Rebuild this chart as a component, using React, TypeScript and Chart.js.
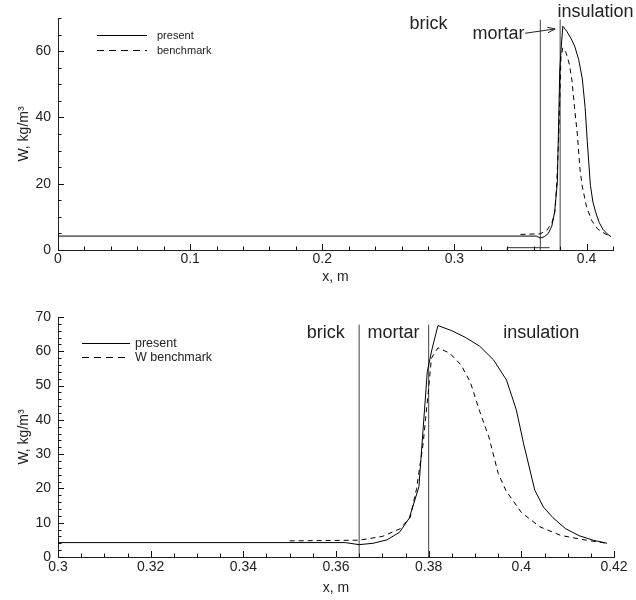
import React, { useEffect, useRef } from "react";
import { Chart, registerables } from "chart.js";

Chart.register(...registerables);

// ---------- data ----------
const presentX = [0, 0.362, 0.365, 0.368, 0.371, 0.3737, 0.3758, 0.3779, 0.3797, 0.3807, 0.382, 0.385, 0.388, 0.391, 0.394, 0.3968, 0.3989, 0.4005, 0.4029, 0.4048, 0.4068, 0.4095, 0.4125, 0.4155, 0.4185];
const presentW = [4.2, 4.2, 3.6, 4.0, 5.0, 7.2, 11.3, 20.5, 54, 60.5, 67.5, 66, 64, 61.5, 57.5, 51.6, 43, 33, 19.5, 14.5, 11.5, 8.3, 6.2, 4.9, 4.0];

const benchX = [0.35, 0.365, 0.37, 0.3738, 0.376, 0.3774, 0.3788, 0.3799, 0.3806, 0.382, 0.3845, 0.387, 0.389, 0.391, 0.393, 0.395, 0.3967, 0.4, 0.404, 0.4085, 0.414, 0.418];
const benchW = [4.7, 4.9, 6.0, 8.2, 11.5, 20, 33, 48, 58, 61, 59.5, 56, 51, 42.5, 35, 24.4, 19.3, 13, 8.8, 6.3, 4.9, 4.1];

const layerBounds = [0.365, 0.38];
const layerNames = ["brick", "mortar", "insulation"];

const markX = [0.34, 0.34, 0.372];
const markW = [0, 0.7, 0.7];

// axis ranges / ticks
const topXRange = [0, 0.42];
const topXSteps = [0.02, 0.1]; // minor, major
const topYRange = [0, 70];
const topYSteps = [5, 20];
const botXRange = [0.3, 0.42];
const botXSteps = [0.005, 0.02];
const botYRange = [0, 70];
const botYSteps = [2, 10];

const FONT = "'Liberation Sans', Arial, Helvetica, sans-serif";
const INK = "#222";
const AXIS = "#222";

const isMajor = (v: number, major: number) => Math.abs(v / major - Math.round(v / major)) < 1e-6;
const fmt = (v: number) => String(parseFloat(v.toFixed(3)));
const pts = (xs: number[], ys: number[]) => xs.map((x, i) => ({ x, y: ys[i] }));

// ---------- plugins ----------
const inwardTicks = {
  id: "inwardTicks",
  afterDraw(chart: any, _args: any, opts: any) {
    const { ctx, chartArea } = chart;
    const xs = chart.scales.x;
    const ys = chart.scales.y;
    const xMajor = opts && opts.xMajor ? opts.xMajor : 1;
    const yMajor = opts && opts.yMajor ? opts.yMajor : 10;
    ctx.save();
    ctx.setLineDash([]);
    ctx.strokeStyle = "#111";
    ctx.lineWidth = 1;
    ctx.beginPath();
    xs.ticks.forEach((t: any) => {
      const px = Math.round(xs.getPixelForValue(t.value)) + 0.5;
      const len = isMajor(t.value, xMajor) ? 6 : 3.5;
      ctx.moveTo(px, chartArea.bottom);
      ctx.lineTo(px, chartArea.bottom - len);
    });
    ys.ticks.forEach((t: any) => {
      const py = Math.round(ys.getPixelForValue(t.value)) + 0.5;
      const len = isMajor(t.value, yMajor) ? 6 : 3.5;
      ctx.moveTo(chartArea.left, py);
      ctx.lineTo(chartArea.left + len, py);
    });
    ctx.stroke();
    ctx.restore();
  },
};

const boxLegend = {
  id: "boxLegend",
  afterDraw(chart: any, _args: any, opts: any) {
    const { ctx, chartArea } = chart;
    ctx.save();
    ctx.font = `${opts.fontSize}px ${FONT}`;
    ctx.textBaseline = "middle";
    ctx.textAlign = "left";
    let row = 0;
    chart.data.datasets.forEach((ds: any) => {
      if (!ds.label) return;
      const y = chartArea.top + opts.dy + row * opts.rowGap + 0.5;
      const x0 = chartArea.left + opts.dx;
      ctx.strokeStyle = "#000";
      ctx.lineWidth = 1;
      ctx.setLineDash(ds.borderDash && ds.borderDash.length ? opts.dash : []);
      ctx.beginPath();
      ctx.moveTo(x0, y);
      ctx.lineTo(x0 + opts.len, y);
      ctx.stroke();
      ctx.setLineDash([]);
      ctx.fillStyle = INK;
      ctx.fillText(ds.label, x0 + opts.len + opts.gap, y);
      row++;
    });
    ctx.restore();
  },
};

const layerText = {
  id: "layerText",
  afterDraw(chart: any, _args: any, opts: any) {
    const { ctx } = chart;
    const xs = chart.scales.x;
    const ys = chart.scales.y;
    ctx.save();
    ctx.font = `${opts.fontSize}px ${FONT}`;
    ctx.fillStyle = INK;
    ctx.textAlign = "center";
    ctx.textBaseline = "middle";
    opts.items.forEach((it: any) => {
      ctx.fillText(it.text, xs.getPixelForValue(it.x), ys.getPixelForValue(it.y));
    });
    (opts.arrows || []).forEach((a: any) => {
      const x1 = xs.getPixelForValue(a.from[0]);
      const y1 = ys.getPixelForValue(a.from[1]);
      const x2 = xs.getPixelForValue(a.to[0]);
      const y2 = ys.getPixelForValue(a.to[1]);
      const ang = Math.atan2(y2 - y1, x2 - x1);
      ctx.strokeStyle = INK;
      ctx.lineWidth = 1;
      ctx.beginPath();
      ctx.moveTo(x1, y1);
      ctx.lineTo(x2, y2);
      ctx.moveTo(x2 - 8 * Math.cos(ang - 0.35), y2 - 8 * Math.sin(ang - 0.35));
      ctx.lineTo(x2, y2);
      ctx.lineTo(x2 - 8 * Math.cos(ang + 0.35), y2 - 8 * Math.sin(ang + 0.35));
      ctx.stroke();
    });
    ctx.restore();
  },
};

// ---------- chart config ----------
function buildConfig(p: any) {
  const lineDs = (label: string, data: any[], dash: number[], color = "#000") => ({
    label,
    data,
    showLine: true,
    borderColor: color,
    borderWidth: 1,
    borderDash: dash,
    pointRadius: 0,
    fill: false,
    tension: 0,
  });
  const datasets: any[] = [
    lineDs("present", pts(presentX, presentW), []),
    lineDs(p.benchLabel, pts(benchX, benchW), [5, 4]),
    ...layerBounds.map((b) => lineDs("", pts([b, b], [0, p.boundTop]), [], "#444")),
  ];
  if (p.showMark) datasets.push(lineDs("", pts(markX, markW), [], "#333"));

  return {
    type: "scatter",
    data: { datasets },
    plugins: [inwardTicks, boxLegend, layerText],
    options: {
      responsive: false,
      animation: false,
      devicePixelRatio: 1,
      layout: { padding: p.padding },
      plugins: {
        legend: { display: false },
        tooltip: { enabled: false },
        inwardTicks: { xMajor: p.xSteps[1], yMajor: p.ySteps[1] },
        boxLegend: p.legend,
        layerText: p.text,
      },
      scales: {
        x: {
          type: "linear",
          min: p.xRange[0],
          max: p.xRange[1],
          grid: { display: false, drawTicks: false, tickLength: 0 },
          border: { display: true, color: AXIS, width: 1 },
          afterFit: (s: any) => { s.height = p.xHeight; },
          ticks: {
            stepSize: p.xSteps[0],
            autoSkip: false,
            maxRotation: 0,
            minRotation: 0,
            padding: p.xTickPad,
            color: INK,
            font: { family: FONT, size: 14 },
            callback: (v: any) => (isMajor(Number(v), p.xSteps[1]) ? fmt(Number(v)) : ""),
          },
          title: {
            display: true,
            text: "x, m",
            color: INK,
            font: { family: FONT, size: 14 },
            padding: { top: 0, bottom: p.xTitlePad },
          },
        },
        y: {
          type: "linear",
          min: p.yRange[0],
          max: p.yRange[1],
          grid: { display: false, drawTicks: false, tickLength: 0 },
          border: { display: true, color: AXIS, width: 1 },
          afterFit: (s: any) => { s.width = 58; },
          ticks: {
            stepSize: p.ySteps[0],
            autoSkip: false,
            padding: 7,
            color: INK,
            font: { family: FONT, size: 14 },
            callback: (v: any) => (isMajor(Number(v), p.ySteps[1]) ? fmt(Number(v)) : ""),
          },
          title: {
            display: true,
            text: "W, kg/m³",
            color: INK,
            font: { family: FONT, size: 14 },
            padding: { top: 15.5, bottom: 0 },
          },
        },
      },
    },
  };
}

const topPanel = {
  top: 0,
  height: 295,
  xRange: topXRange,
  xSteps: topXSteps,
  yRange: topYRange,
  ySteps: topYSteps,
  padding: { left: 0, right: 23, top: 18, bottom: 5 },
  xHeight: 40,
  xTickPad: 1,
  xTitlePad: 4.6,
  benchLabel: "benchmark",
  boundTop: 69.5,
  showMark: true,
  legend: { dx: 39, dy: 17, rowGap: 15, len: 50, gap: 10, fontSize: 11, dash: [7, 5] },
  text: {
    fontSize: 18,
    items: [
      { text: layerNames[0], x: 0.2804, y: 68.3 },
      { text: layerNames[1], x: 0.3333, y: 65.3 },
      { text: layerNames[2], x: 0.4067, y: 71.8 },
    ],
    arrows: [{ from: [0.3535, 65.4], to: [0.3762, 66.7] }],
  },
};

const bottomPanel = {
  top: 295,
  height: 305,
  xRange: botXRange,
  xSteps: botXSteps,
  yRange: botYRange,
  ySteps: botYSteps,
  padding: { left: 0, right: 22, top: 22, bottom: 0 },
  xHeight: 43,
  xTickPad: 2,
  xTitlePad: 3.6,
  benchLabel: "W benchmark",
  boundTop: 67.8,
  showMark: false,
  legend: { dx: 24, dy: 26, rowGap: 14, len: 48, gap: 5, fontSize: 12.5, dash: [7, 5] },
  text: {
    fontSize: 18,
    items: [
      { text: layerNames[0], x: 0.3578, y: 65.2 },
      { text: layerNames[1], x: 0.3724, y: 65.2 },
      { text: layerNames[2], x: 0.4043, y: 65.2 },
    ],
    arrows: [],
  },
};

function Panel({ cfg }: { cfg: any }) {
  const ref = useRef<HTMLCanvasElement>(null);
  useEffect(() => {
    const chart = new Chart(ref.current as HTMLCanvasElement, buildConfig(cfg) as any);
    return () => chart.destroy();
  }, [cfg]);
  return (
    <canvas
      ref={ref}
      width={636}
      height={cfg.height}
      style={{ position: "absolute", left: 0, top: cfg.top, width: 636, height: cfg.height }}
    />
  );
}

export default function App() {
  return (
    <div style={{ position: "fixed", left: 0, top: 0, width: 636, height: 600, background: "#fff" }}>
      <Panel cfg={topPanel} />
      <Panel cfg={bottomPanel} />
    </div>
  );
}
